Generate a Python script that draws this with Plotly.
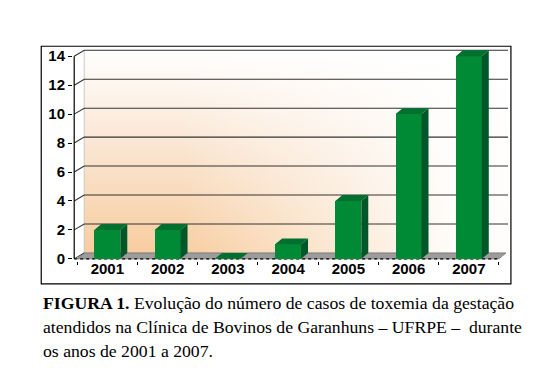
import plotly.graph_objects as go

# ---- data ----
years = ["2001", "2002", "2003", "2004", "2005", "2006", "2007"]
cases = [2, 2, 0, 1, 4, 10, 14]
y_ticks = [0, 2, 4, 6, 8, 10, 12, 14]
caption_lines = [
    "<b>FIGURA 1.</b> Evolução do número de casos de toxemia da gestação",
    "atendidos na Clínica de Bovinos de Garanhuns – UFRPE –  durante",
    "os anos de 2001 a 2007.",
]

# ---- geometry / style ----
W_FIG, H_FIG = 534, 391
X_RANGE = [-0.57, 6.65]
Y_RANGE = [-0.15, 14.5]
PX_X = 60.29
PX_Y = 14.5
L = 77 - (-0.5 - X_RANGE[0]) * PX_X
PW = (X_RANGE[1] - X_RANGE[0]) * PX_X
T = 259 - Y_RANGE[1] * PX_Y
PH = (Y_RANGE[1] - Y_RANGE[0]) * PX_Y
R = W_FIG - L - PW
B = H_FIG - T - PH

DX = 0.116   # depth offset (x units)
DY = 0.41    # depth offset (y units)
BAR_W = 0.43
n = len(years)
xi = list(range(n))
x_lo, x_hi = -0.5, n - 0.5
AX_X = -0.55

FRONT = "#008A36"
SIDE = "#00582A"
TOP = "#00702F"

def px2paper_x(px):
    return (px - L) / PW

def px2paper_y(py):
    return (T + PH - py) / PH

fig = go.Figure()

# back wall background: vertical warm gradient
wall_x = [x_lo + DX, X_RANGE[1] + 0.2, X_RANGE[1] + 0.2, x_lo + DX, x_lo + DX]
wall_y = [DY, DY, y_ticks[-1] + DY, y_ticks[-1] + DY, DY]
fig.add_trace(go.Scatter(
    x=wall_x, y=wall_y, mode="lines", fill="toself", line=dict(width=0),
    fillgradient=dict(type="vertical", start=DY, stop=y_ticks[-1] + DY,
                      colorscale=[[0, "#F7CDA0"], [0.5, "#FAE4CF"], [1, "#FFFFFF"]]),
    hoverinfo="skip", showlegend=False))
# horizontal fade to white toward the right
fig.add_trace(go.Scatter(
    x=wall_x, y=wall_y, mode="lines", fill="toself", line=dict(width=0),
    fillgradient=dict(type="horizontal", start=1.2, stop=5.8,
                      colorscale=[[0, "rgba(255,255,255,0)"], [1, "rgba(255,255,255,0.95)"]]),
    hoverinfo="skip", showlegend=False))

# back-wall left edge
fig.add_trace(go.Scatter(x=[x_lo + DX, x_lo + DX], y=[DY, y_ticks[-1] + DY], mode="lines",
                         line=dict(color="#C8C8C8", width=1), hoverinfo="skip", showlegend=False))

# gridlines on back wall + slanted connectors
gx, gy = [], []
for t in y_ticks[1:]:
    gx += [AX_X, x_lo + DX, X_RANGE[1] + 0.2, None]
    gy += [t, t + DY, t + DY, None]
fig.add_trace(go.Scatter(x=gx, y=gy, mode="lines", line=dict(color="#333333", width=1.1),
                         hoverinfo="skip", showlegend=False))

# floor
fig.add_trace(go.Scatter(
    x=[x_lo, x_lo + DX, x_hi + DX, x_hi, x_lo], y=[0, DY, DY, 0, 0],
    mode="lines", fill="toself", fillcolor="#9C9C9C", line=dict(color="#6E6E6E", width=0.8),
    hoverinfo="skip", showlegend=False))
fig.add_trace(go.Scatter(x=[AX_X, x_lo + DX], y=[0, DY], mode="lines",
                         line=dict(color="#333333", width=1), hoverinfo="skip", showlegend=False))

# y axis line
fig.add_trace(go.Scatter(x=[AX_X, AX_X], y=[0, y_ticks[-1]], mode="lines",
                         line=dict(color="#000000", width=1.2), hoverinfo="skip", showlegend=False))
# dotted front edge of floor
fig.add_trace(go.Scatter(x=[AX_X, x_hi], y=[0, 0], mode="lines",
                         line=dict(color="#000000", width=1.2, dash="dot"),
                         hoverinfo="skip", showlegend=False))

# ---- bars (overlay subplot so they sit above the background) ----
fig.add_trace(go.Bar(x=xi, y=cases, width=BAR_W, marker=dict(color=FRONT, line=dict(width=0)),
                     xaxis="x2", yaxis="y2", hoverinfo="skip", showlegend=False))

sx, sy, tx, ty = [], [], [], []
for i, v in zip(xi, cases):
    r = i + BAR_W / 2
    l = i - BAR_W / 2
    if v > 0:
        sx += [r, r + DX, r + DX, r, r, None]
        sy += [0, DY, v + DY, v, 0, None]
    tx += [l, l + DX, r + DX, r, l, None]
    ty += [v, v + DY, v + DY, v, v, None]
fig.add_trace(go.Scatter(x=sx, y=sy, mode="lines", fill="toself", fillcolor=SIDE,
                         line=dict(width=0), xaxis="x2", yaxis="y2",
                         hoverinfo="skip", showlegend=False))
fig.add_trace(go.Scatter(x=tx, y=ty, mode="lines", fill="toself", fillcolor=TOP,
                         line=dict(width=0), xaxis="x2", yaxis="y2",
                         hoverinfo="skip", showlegend=False))

bold_font = dict(family="Liberation Sans", size=15, color="#000000", weight="bold")

fig.update_layout(
    width=W_FIG, height=H_FIG,
    margin=dict(l=L, r=R, t=T, b=B, pad=0),
    paper_bgcolor="#FFFFFF", plot_bgcolor="rgba(0,0,0,0)",
    bargap=0,
    xaxis=dict(range=X_RANGE, tickmode="array", tickvals=xi, ticktext=years,
               ticks="", showgrid=False, zeroline=False, showline=False,
               tickfont=bold_font, ticklabelstandoff=-3,
               minor=dict(tickmode="array", tickvals=[k - 0.5 for k in range(n + 1)],
                          ticks="outside", ticklen=3, tickcolor="#000000", tickwidth=1,
                          showgrid=False)),
    yaxis=dict(range=Y_RANGE, tickmode="array", tickvals=y_ticks,
               ticks="outside", ticklen=4, tickcolor="#000000", tickwidth=1.2,
               showgrid=False, zeroline=False, showline=False, tickfont=bold_font),
    xaxis2=dict(range=X_RANGE, overlaying="x", visible=False),
    yaxis2=dict(range=Y_RANGE, overlaying="y", visible=False),
    shapes=[dict(type="rect", xref="paper", yref="paper",
                 x0=px2paper_x(41), x1=px2paper_x(511),
                 y0=px2paper_y(284), y1=px2paper_y(46),
                 line=dict(color="#000000", width=1.2), fillcolor="rgba(0,0,0,0)", layer="above")],
)

cap_centers = [303, 327, 351]
for txt, cy in zip(caption_lines, cap_centers):
    fig.add_annotation(text=txt, xref="paper", yref="paper",
                       x=px2paper_x(41), y=px2paper_y(cy), xanchor="left", yanchor="middle",
                       showarrow=False, align="left",
                       font=dict(family="Liberation Serif", size=17.7, color="#000000"))

fig.write_html("out.html", config={"displayModeBar": False},
               post_script="document.body.style.margin='0px';")
